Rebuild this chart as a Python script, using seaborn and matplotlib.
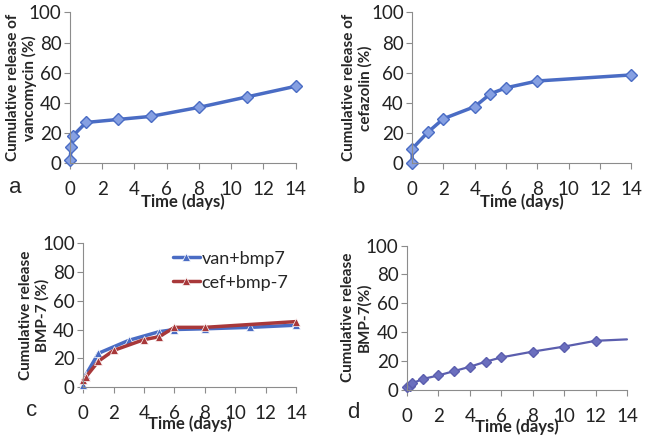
import numpy as np
import pandas as pd
import seaborn as sns
import matplotlib.pyplot as plt

# panel a: vancomycin
van_days = [0, 0.08, 0.17, 1, 3, 5, 8, 11, 14]
van_release = [2, 11, 18, 27, 29, 31, 37, 44, 51]

# panel b: cefazolin
cef_days = [0, 0, 1, 2, 4, 5, 6, 8, 14]
cef_release = [0, 9.5, 20.5, 29.5, 37.5, 46, 50, 54.5, 58.5]

# panel c: BMP-7 from the two combinations
vb_days = [0, 0.17, 1, 3, 5, 6, 8, 11, 14]
vb_release = [1.5, 8.5, 23.5, 32.5, 38.5, 40, 40.5, 41.5, 43]
cb_days = [0, 0.17, 1, 2, 4, 5, 6, 8, 14]
cb_release = [5, 7, 18, 25.5, 33, 35, 41.5, 41.5, 45.5]

# panel d: BMP-7 alone
bmp_days = [0, 0.17, 0.33, 1, 2, 3, 4, 5, 6, 8, 10, 12, 14]
bmp_release = [1.8, 3, 4.5, 7.5, 10, 13, 16, 19.5, 22.5, 26.5, 30, 34, 35]

sns.set_style("ticks")
plt.rcParams['font.family'] = ['Lato', 'DejaVu Sans']

BLUE = '#4A6CC4'
MFACE = '#86A0E2'
RED = '#A8383A'
PURPLE = '#5B5EAE'
GRAY = '#8C8C8C'

fig = plt.figure(figsize=(6.45, 4.41), dpi=100)

ax_a = fig.add_axes([0.1085, 0.630, 0.350, 0.342])
ax_b = fig.add_axes([0.639, 0.630, 0.340, 0.342])
ax_c = fig.add_axes([0.129, 0.122, 0.330, 0.327])
ax_d = fig.add_axes([0.631, 0.116, 0.341, 0.327])

sns.lineplot(x=van_days, y=van_release, ax=ax_a, color=BLUE, lw=2.5,
             marker='D', ms=6.5, mfc=MFACE, mec=BLUE, mew=1, sort=False,
             estimator=None)
sns.lineplot(x=cef_days, y=cef_release, ax=ax_b, color=BLUE, lw=2.5,
             marker='D', ms=6.5, mfc=MFACE, mec=BLUE, mew=1, sort=False,
             estimator=None)

df_c = pd.DataFrame({
    'day': vb_days + cb_days,
    'release': vb_release + cb_release,
    'group': ['van+bmp7'] * len(vb_days) + ['cef+bmp-7'] * len(cb_days),
})
sns.lineplot(data=df_c, x='day', y='release', hue='group', ax=ax_c,
             palette=[BLUE, RED], lw=2.5, marker='^', ms=6, mew=0.5,
             sort=False, estimator=None)

ax_d.plot(bmp_days, bmp_release, color=PURPLE, lw=1.6, marker='D', ms=5.5,
          mfc='#6B6FBE', mec=PURPLE, markevery=list(range(len(bmp_days) - 1)))

ylabels = ['Cumulative release of\nvancomycin (%)',
           'Cumulative release of\ncefazolin (%)',
           'Cumulative release\nBMP-7 (%)',
           'Cumulative release\nBMP-7(%)']
ylabel_x = [-0.215, -0.249, -0.23, -0.232]
letters = ['a', 'b', 'c', 'd']
for ax, yl, lx, let in zip([ax_a, ax_b, ax_c, ax_d], ylabels, ylabel_x, letters):
    ax.set_xlim(0, 14)
    ax.set_ylim(0, 100)
    ax.set_xticks(range(0, 15, 2))
    ax.set_yticks(range(0, 101, 20))
    for s in ['top', 'right']:
        ax.spines[s].set_visible(False)
    for s in ['left', 'bottom']:
        ax.spines[s].set_color(GRAY)
        ax.spines[s].set_linewidth(0.8)
    ax.tick_params(axis='both', colors=GRAY, labelcolor='#222222',
                   labelsize=13.5, length=4, width=0.8, direction='out')
    ax.tick_params(axis='x', pad=9)
    ax.tick_params(axis='y', pad=2)
    ax.set_xlabel('')
    ax.set_ylabel(yl, fontsize=11, fontweight='bold', linespacing=1.2)
    ax.yaxis.label.set_va('center')
    ax.yaxis.set_label_coords(lx, 0.5)
    ax.text(0.5, -0.255, 'Time (days)', transform=ax.transAxes, ha='center',
            va='center', fontsize=12, fontweight='bold')
    ax.text(-0.27, -0.16, let, transform=ax.transAxes, ha='left', va='center',
            fontsize=16, family=['Liberation Sans', 'DejaVu Sans'])
    for line in ax.lines:
        line.set_clip_on(False)

ax_c.legend(loc='upper right', bbox_to_anchor=(1.04, 1.06), frameon=False,
            fontsize=13, handlelength=1.5, handletextpad=0.1,
            labelspacing=0.45)

fig.savefig('out.png', dpi=100)
